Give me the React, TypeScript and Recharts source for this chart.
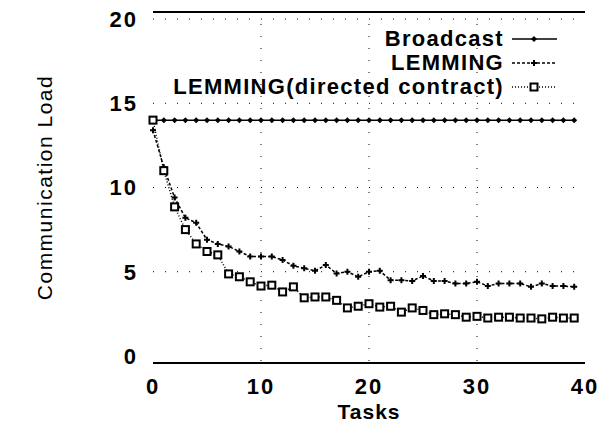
import { LineChart, Line, XAxis, YAxis, CartesianGrid, ReferenceLine } from 'recharts';

const tasks = Array.from({ length: 40 }, (_, i) => i);

const broadcast = [
	14, 14, 14, 14, 14, 14, 14, 14, 14, 14, 14, 14, 14, 14, 14, 14, 14, 14, 14, 14,
	14, 14, 14, 14, 14, 14, 14, 14, 14, 14, 14, 14, 14, 14, 14, 14, 14, 14, 14, 14,
];

const lemming = [
	13.4, 11.2, 9.4, 8.2, 7.9, 6.9, 6.65, 6.5, 6.2, 5.9, 5.9, 5.9, 5.7, 5.35, 5.2, 5.05, 5.4, 4.9, 5.0, 4.7,
	5.0, 5.05, 4.5, 4.5, 4.45, 4.75, 4.45, 4.45, 4.3, 4.3, 4.4, 4.15, 4.3, 4.3, 4.3, 4.1, 4.3, 4.15, 4.15, 4.1,
];

const directed = [
	14, 11.0, 8.85, 7.5, 6.65, 6.2, 6.0, 4.87, 4.7, 4.4, 4.15, 4.2, 3.8, 4.1, 3.45, 3.5, 3.5, 3.3, 2.85, 2.95,
	3.1, 2.9, 2.95, 2.6, 2.85, 2.7, 2.45, 2.5, 2.45, 2.3, 2.35, 2.25, 2.3, 2.3, 2.25, 2.25, 2.2, 2.3, 2.25, 2.25,
];

const xTicks = [0, 10, 20, 30, 40];
const yTicks = [0, 5, 10, 15, 20];

const data = tasks.map((t, i) => ({ t, broadcast: broadcast[i], lemming: lemming[i], directed: directed[i] }));

const font = '"Liberation Sans", Arial, Helvetica, sans-serif';

const Diamond = (props: any) => {
	const { cx, cy } = props;
	if (cx == null || cy == null) return null;
	return <path d={`M${cx - 3},${cy} L${cx},${cy - 3} L${cx + 3},${cy} L${cx},${cy + 3} Z`} fill="#000" />;
};

const Plus = (props: any) => {
	const { cx, cy } = props;
	if (cx == null || cy == null) return null;
	return <path d={`M${cx - 3},${cy} H${cx + 3} M${cx},${cy - 3} V${cy + 3}`} stroke="#000" strokeWidth={2} />;
};

const Square = (props: any) => {
	const { cx, cy } = props;
	if (cx == null || cy == null) return null;
	return <rect x={cx - 3.5} y={cy - 3.5} width={7} height={7} fill="#fff" stroke="#000" strokeWidth={2} />;
};

const legendRows = [
	{ name: 'Broadcast', dash: undefined, marker: 'diamond' },
	{ name: 'LEMMING', dash: '3 2', marker: 'plus' },
	{ name: 'LEMMING(directed contract)', dash: '1 2', marker: 'square' },
];

function KeyBox() {
	return (
		<div style={{ position: 'absolute', top: 27, left: 100, width: 460, fontFamily: font, fontSize: 22, fontWeight: 'bold', lineHeight: '24px', color: '#000' }}>
			{legendRows.map((r) => (
				<div key={r.name} style={{ display: 'flex', justifyContent: 'flex-end', alignItems: 'center' }}>
					<span style={{ letterSpacing: 1.3 }}>{r.name}</span>
					<svg width={54} height={20} style={{ marginLeft: 2 }}>
						<line x1={6} x2={51} y1={10} y2={10} stroke="#000" strokeWidth={1.5} strokeDasharray={r.dash} />
						{r.marker === 'diamond' && <Diamond cx={28} cy={10} />}
						{r.marker === 'plus' && <Plus cx={28} cy={10} />}
						{r.marker === 'square' && <Square cx={28} cy={10} />}
					</svg>
				</div>
			))}
		</div>
	);
}

const tickStyle = { fill: '#000', fontSize: 22, fontWeight: 'bold', fontFamily: font, letterSpacing: 2 };

export default function App() {
	return (
		<div style={{ position: 'absolute', left: 0, top: 0, width: 601, height: 427, background: '#fff' }}>
			<LineChart width={601} height={427} data={data} margin={{ top: 12, right: 16, bottom: 0, left: 70 }}>
				<CartesianGrid stroke="#000" strokeDasharray="1 11" horizontalValues={[5, 10, 15, 20]} verticalValues={[10, 20, 30]} />
				<ReferenceLine y={20.42} stroke="#000" strokeWidth={2} />
				<XAxis
					dataKey="t"
					type="number"
					domain={[0, 40]}
					ticks={xTicks}
					tickLine={false}
					axisLine={{ stroke: '#000', strokeWidth: 2 }}
					tick={tickStyle}
					tickMargin={9}
					height={64}
					label={{ value: 'Tasks', position: 'insideBottom', offset: 8, fill: '#000', fontSize: 21, fontWeight: 'bold', fontFamily: font, letterSpacing: 1 }}
				/>
				<YAxis
					type="number"
					domain={[-0.42, 20.42]}
					ticks={yTicks}
					tickLine={false}
					axisLine={false}
					width={83}
					tick={tickStyle}
					tickMargin={9}
					label={{ value: 'Communication Load', angle: -90, position: 'insideLeft', offset: -25, fill: '#000', fontSize: 21, fontFamily: font, letterSpacing: 1.5, textAnchor: 'middle' }}
				/>
				<Line dataKey="broadcast" stroke="#000" strokeWidth={1.5} dot={<Diamond />} isAnimationActive={false} />
				<Line dataKey="lemming" stroke="#000" strokeWidth={1.5} strokeDasharray="3 2" dot={<Plus />} isAnimationActive={false} />
				<Line dataKey="directed" stroke="#000" strokeWidth={1.5} strokeDasharray="1 2" dot={<Square />} isAnimationActive={false} />
			</LineChart>
			<KeyBox />
		</div>
	);
}
